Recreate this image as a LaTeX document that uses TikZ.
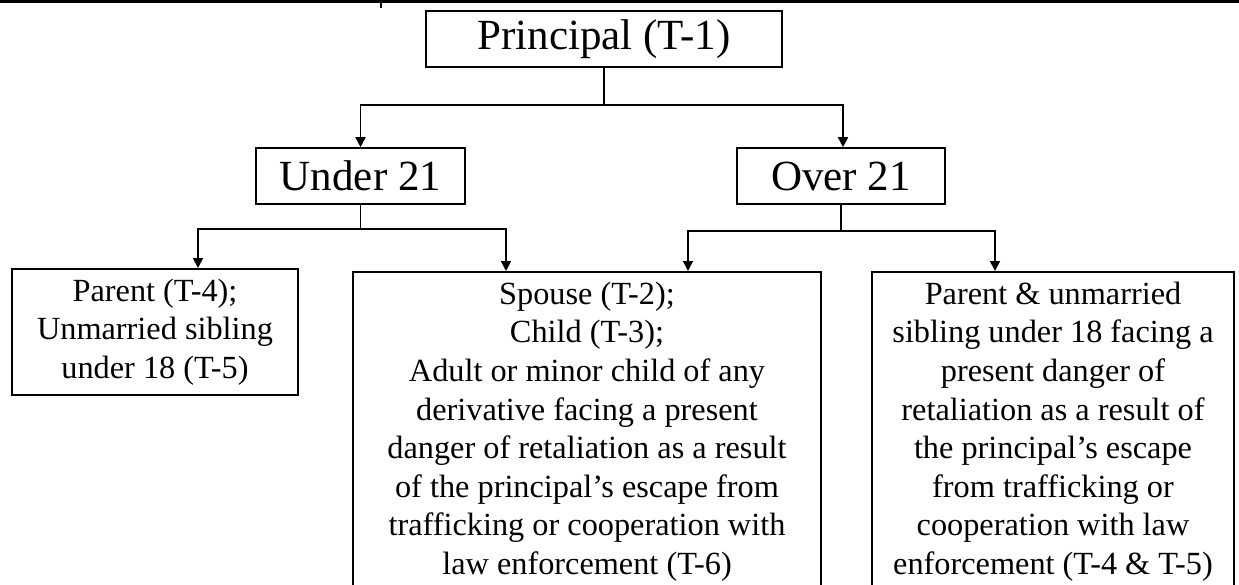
\documentclass[tikz,border=0pt]{standalone}
\usepackage{fontspec}
\setmainfont{Liberation Serif}
\usetikzlibrary{arrows.meta}

\begin{document}
\begin{tikzpicture}[x=1pt,y=-1pt,
  headbox/.style={draw, line width=1.6pt, align=center, inner sep=0pt,
    font=\fontsize{43}{50}\selectfont},
  textbox/.style={draw, line width=1.6pt, align=center, anchor=north,
    inner xsep=4pt, inner ysep=10pt, font=\fontsize{32.3}{38.6}\selectfont},
  link/.style={line width=1.6pt, -{Triangle[width=10pt,length=10pt]}}]
\clip (0,0) rectangle (1239,584);
% cut-off rule of the page above
\draw[line width=2.5pt] (0,1.5) -- (1239,1.5);
\draw[line width=1.6pt] (381,0) -- (381,8);
% top and age levels
\node[headbox, minimum width=356pt, minimum height=56pt] (principal) at (604,39) {Principal (T-1)};
\node[headbox, minimum width=209pt, minimum height=56pt] (under) at (360.5,176) {Under 21};
\node[headbox, minimum width=208pt, minimum height=56pt] (over) at (841,176) {Over 21};
% derivatives
\node[textbox, minimum width=286pt] (parents) at (155,268) {Parent (T-4);\\Unmarried sibling\\under 18 (T-5)};
\node[textbox, minimum width=468pt] (spouse) at (587,271) {Spouse (T-2);\\Child (T-3);\\Adult or minor child of any\\derivative facing a present\\danger of retaliation as a result\\of the principal’s escape from\\trafficking or cooperation with\\law enforcement (T-6)};
\node[textbox, minimum width=362pt] (family) at (1053,271) {Parent \& unmarried\\sibling under 18 facing a\\present danger of\\retaliation as a result of\\the principal’s escape\\from trafficking or\\cooperation with law\\enforcement (T-4 \& T-5)};
\draw[link] (principal.south) -- ++(0,37) -| (under.north);
\draw[link] (principal.south) -- ++(0,37) -| ([xshift=2pt]over.north);
\draw[link] (under.south) -- ++(0,24) -| ([xshift=43pt]parents.north);
\draw[link] (under.south) -- ++(0,24) -| ([xshift=-81pt]spouse.north);
\draw[link] (over.south) -- ++(0,26) -| ([xshift=101pt]spouse.north);
\draw[link] (over.south) -- ++(0,26) -| ([xshift=-58pt]family.north);
\end{tikzpicture}
\end{document}
